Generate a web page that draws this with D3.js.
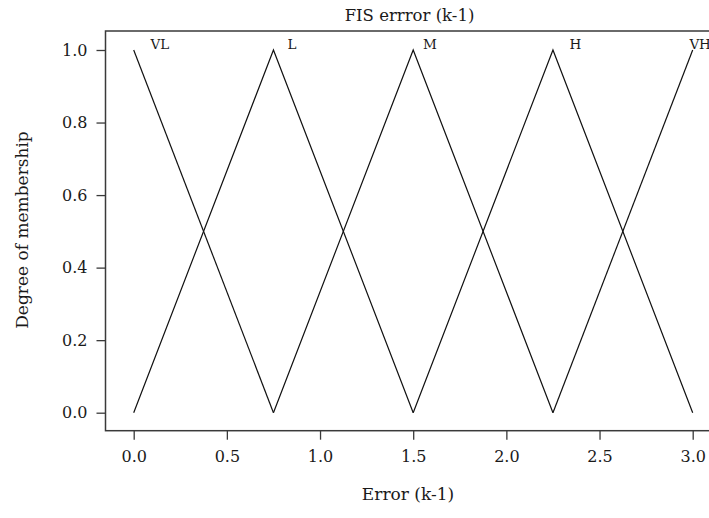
<!DOCTYPE html>
<html>
<head>
<meta charset="utf-8">
<script src="https://cdn.jsdelivr.net/npm/d3@7"></script>
<style>
  html, body { margin: 0; padding: 0; background: #fff; }
  svg { display: block; font-family: "DejaVu Serif", "Liberation Serif", serif; }
</style>
</head>
<body>
<svg id="chart" width="709" height="518"></svg>
<script>
// Membership functions of the "error (k-1)" input: triangle vertices per term
const terms = ["VL", "L", "M", "H", "VH"];
const termX = [
  [0, 0.75],
  [0, 0.75, 1.5],
  [0.75, 1.5, 2.25],
  [1.5, 2.25, 3],
  [2.25, 3]
];
const termY = [
  [1, 0],
  [0, 1, 0],
  [0, 1, 0],
  [0, 1, 0],
  [0, 1]
];
// where each term name sits along the top of its peak
const labelX = [0.14, 0.85, 1.59, 2.37, 3.04];

const xTicks = [0, 0.5, 1, 1.5, 2, 2.5, 3];
const yTicks = [0, 0.2, 0.4, 0.6, 0.8, 1];

const svg = d3.select("#chart");

// plotting region (the frame runs past the right edge of the canvas)
const frame = { left: 105.5, right: 721, top: 31, bottom: 430.7 };

const x = d3.scaleLinear().domain([0, 3]).range([133.7, 692.7]);
const y = d3.scaleLinear().domain([0, 1]).range([412.7, 50]);

const axisColor = "#3a3a3a";
const textColor = "#1a1a1a";

// frame
svg.append("rect")
  .attr("x", frame.left).attr("y", frame.top)
  .attr("width", frame.right - frame.left)
  .attr("height", frame.bottom - frame.top)
  .attr("fill", "none")
  .attr("stroke", axisColor)
  .attr("stroke-width", 1.5);

// x axis
const gx = svg.append("g")
  .attr("transform", `translate(0,${frame.bottom})`)
  .call(d3.axisBottom(x).tickValues(xTicks).tickFormat(d3.format(".1f"))
    .tickSize(9).tickPadding(11));
gx.select(".domain").remove();
gx.selectAll(".tick line").attr("stroke", axisColor).attr("stroke-width", 1.3);
gx.selectAll(".tick text")
  .attr("fill", textColor)
  .style("font-family", "DejaVu Serif")
  .style("font-size", "16px");

// y axis
const gy = svg.append("g")
  .attr("transform", `translate(${frame.left},0)`)
  .call(d3.axisLeft(y).tickValues(yTicks).tickFormat(d3.format(".1f"))
    .tickSize(9).tickPadding(9));
gy.select(".domain").remove();
gy.selectAll(".tick line").attr("stroke", axisColor).attr("stroke-width", 1.3);
gy.selectAll(".tick text")
  .attr("fill", textColor)
  .style("font-family", "DejaVu Serif")
  .style("font-size", "16px");

// membership curves with their term names
const line = d3.line().x(d => x(d[0])).y(d => y(d[1]));
terms.forEach((t, i) => {
  const pts = d3.zip(termX[i], termY[i]);
  svg.append("path")
    .datum(pts)
    .attr("d", line)
    .attr("fill", "none")
    .attr("stroke", "#111")
    .attr("stroke-width", 1.2);
  svg.append("text")
    .attr("x", x(labelX[i]))
    .attr("y", y(1) - 1.5)
    .attr("text-anchor", "middle")
    .attr("fill", textColor)
    .style("font-size", "13.5px")
    .text(t);
});

// title and axis titles
svg.append("text")
  .attr("x", 409.5).attr("y", 20.5)
  .attr("text-anchor", "middle")
  .attr("fill", textColor)
  .style("font-size", "16.5px")
  .text("FIS errror (k-1)");

svg.append("text")
  .attr("x", 408).attr("y", 500)
  .attr("text-anchor", "middle")
  .attr("fill", textColor)
  .style("font-size", "17px")
  .text("Error (k-1)");

svg.append("text")
  .attr("transform", `translate(28,230) rotate(-90)`)
  .attr("text-anchor", "middle")
  .attr("fill", textColor)
  .style("font-size", "17px")
  .text("Degree of membership");
</script>
</body>
</html>
